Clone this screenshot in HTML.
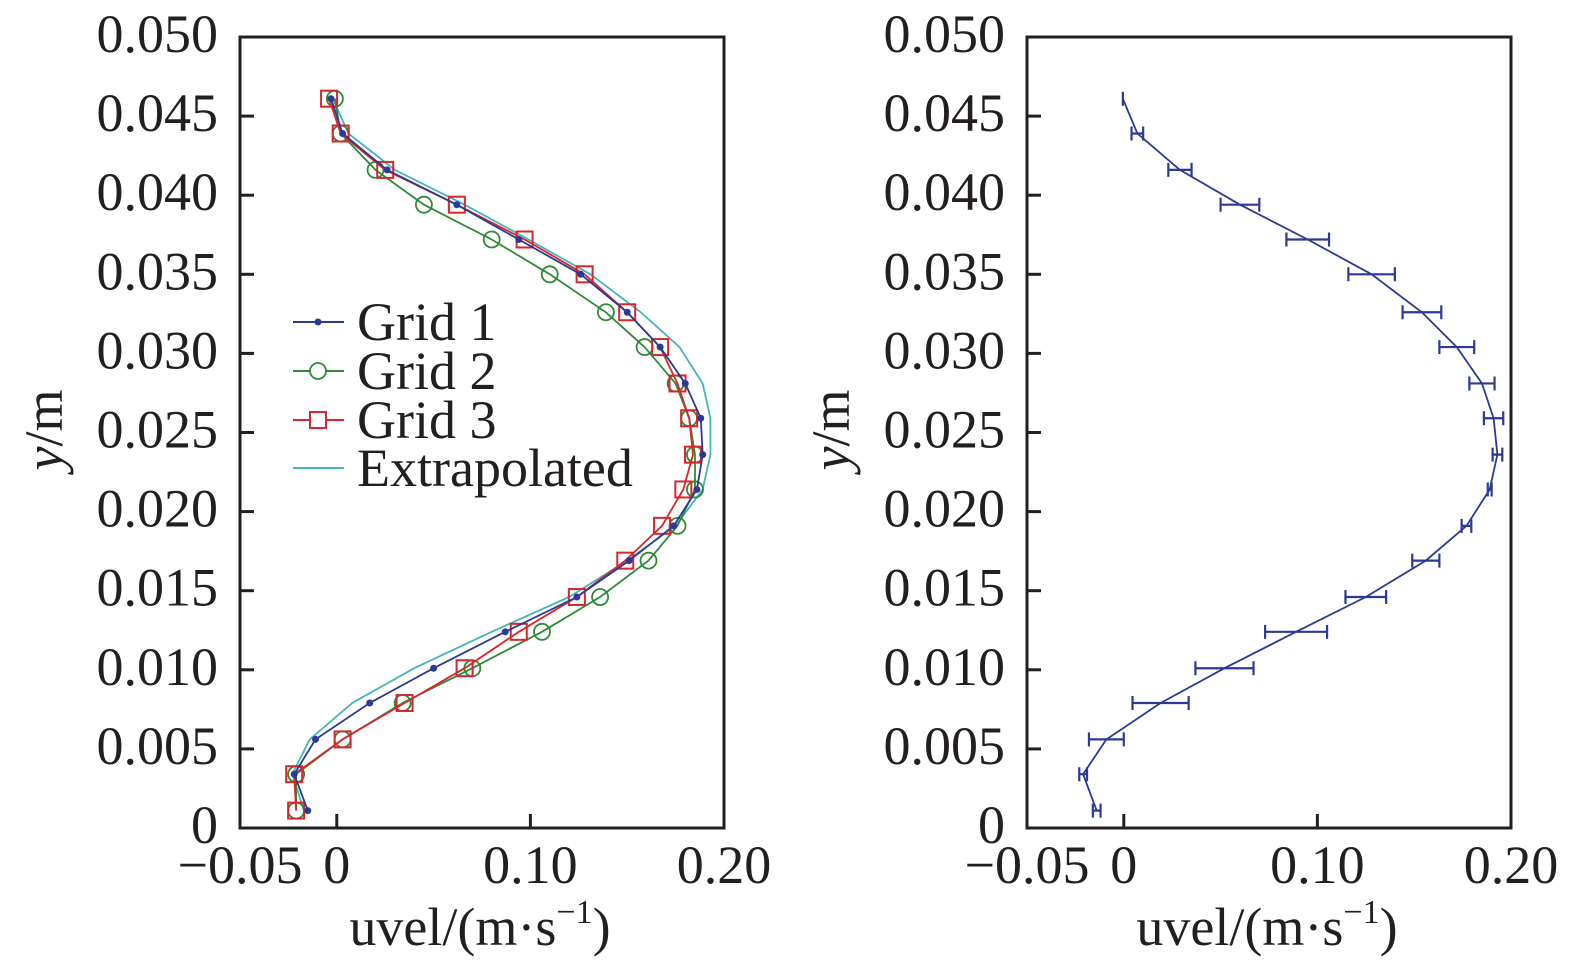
<!DOCTYPE html>
<html><head><meta charset="utf-8"><style>
html,body{margin:0;padding:0;background:#fff;}
svg{display:block;font-family:"Liberation Serif",serif;}
</style></head><body>
<svg id="chart" width="1575" height="970" viewBox="0 0 1575 970" xmlns="http://www.w3.org/2000/svg"></svg>
<script>
const yLevels=[0.0461,0.0439,0.0416,0.0394,0.0372,0.0350,0.0326,0.0304,0.0281,0.0259,0.0236,0.0214,0.0191,0.0169,0.0146,0.0124,0.0101,0.0079,0.0056,0.0034,0.0011];
const grid1=[-0.003,0.003,0.026,0.062,0.094,0.126,0.150,0.167,0.180,0.188,0.189,0.186,0.174,0.151,0.124,0.087,0.050,0.017,-0.011,-0.022,-0.015];
const grid2=[-0.001,0.002,0.020,0.045,0.080,0.110,0.139,0.159,0.175,0.182,0.185,0.185,0.176,0.161,0.136,0.106,0.070,0.034,0.003,-0.021,-0.021];
const grid3=[-0.004,0.002,0.025,0.062,0.097,0.128,0.150,0.167,0.176,0.182,0.184,0.179,0.168,0.149,0.124,0.094,0.066,0.035,0.003,-0.022,-0.021];
const extrap=[-0.002,0.006,0.030,0.066,0.099,0.131,0.157,0.177,0.189,0.193,0.193,0.189,0.175,0.150,0.120,0.080,0.040,0.008,-0.014,-0.023,-0.017];
const meanVel=[-0.0005,0.007,0.029,0.060,0.095,0.128,0.154,0.172,0.185,0.191,0.193,0.189,0.177,0.156,0.125,0.089,0.052,0.019,-0.009,-0.021,-0.014];
const errVel=[0,0.003,0.006,0.010,0.011,0.012,0.010,0.009,0.0065,0.005,0.0025,0.001,0.0025,0.007,0.0105,0.016,0.015,0.0145,0.009,0.002,0.002];
const xTicks=[-0.05,0,0.10,0.20];
const xTickLabels=["\u22120.05","0","0.10","0.20"];
const yTicks=[0,0.005,0.010,0.015,0.020,0.025,0.030,0.035,0.040,0.045,0.050];
const yTickLabels=["0","0.005","0.010","0.015","0.020","0.025","0.030","0.035","0.040","0.045","0.050"];
const legendLabels=["Grid 1","Grid 2","Grid 3","Extrapolated"];

const svg=document.getElementById('chart');
const NS="http://www.w3.org/2000/svg";
function mk(tag,attrs,parent){const e=document.createElementNS(NS,tag);for(const k in attrs)e.setAttribute(k,attrs[k]);(parent||svg).appendChild(e);return e;}

const FS=54;
const X0=240,X1=724,Y0=828,Y1=37;
function makeAxes(off){
  const xs=v=>off+X0+(v+0.05)/0.25*(X1-X0);
  const ys=v=>Y0-v/0.05*(Y0-Y1);
  return {xs,ys};
}
function drawFrame(off,name){
  const {xs,ys}=makeAxes(off);
  const g=mk('g',{});
  
  
  const r=mk('rect',{x:off+X0,y:Y1,width:X1-X0,height:Y0-Y1,fill:'none',stroke:'#231f20','stroke-width':3},g);
  
  
  yTicks.forEach((t,i)=>{
    const y=ys(t);
    const tk=mk('line',{x1:off+X0,x2:off+X0+14,y1:y,y2:y,stroke:'#231f20','stroke-width':3},g);
    
    
    const tx=mk('text',{x:off+218,y:y+15,'text-anchor':'end','font-size':FS,fill:'#231f20'},g);
    tx.textContent=yTickLabels[i];
    
    
  });
  xTicks.forEach((t,i)=>{
    const x=xs(t);
    const tk=mk('line',{x1:x,x2:x,y1:Y0,y2:Y0-14,stroke:'#231f20','stroke-width':3},g);
    
    
    const tx=mk('text',{x:x,y:883,'text-anchor':'middle','font-size':FS,fill:'#231f20'},g);
    tx.textContent=xTickLabels[i];
    
    
  });
  const xt=mk('text',{x:off+480,y:945,'text-anchor':'middle','font-size':FS,fill:'#231f20'},g);
  xt.innerHTML='uvel/(m\u00b7s<tspan dy="-22" font-size="34">\u22121</tspan><tspan dy="22">)</tspan>';
  
  
  const yt=mk('text',{x:0,y:0,'text-anchor':'middle','font-size':FS,fill:'#231f20',transform:`translate(${off+62},430) rotate(-90)`},g);
  yt.innerHTML='<tspan font-style="italic">y</tspan>/m';
  
  
  return {xs,ys};
}
function pathOf(arr,xs,ys){return arr.map((v,i)=>(i?'L':'M')+xs(v).toFixed(1)+' '+ys(yLevels[i]).toFixed(1)).join(' ');}

// Left panel
const L=drawFrame(0,'left');
const cols={b:'#2b3a92',g:'#2f8a36',r:'#d8262c',c:'#45b5b5'};
const ex=mk('path',{d:pathOf(extrap,L.xs,L.ys),fill:'none',stroke:cols.c,'stroke-width':1.8});


function series(arr,col,marker,name){
  const p=mk('path',{d:pathOf(arr,L.xs,L.ys),fill:'none',stroke:col,'stroke-width':1.8});
  
  
  arr.forEach((v,i)=>{
    const x=L.xs(v),y=L.ys(yLevels[i]);let m;
    if(marker==='dot')m=mk('circle',{cx:x,cy:y,r:3.5,fill:col});
    else if(marker==='circle')m=mk('circle',{cx:x,cy:y,r:8,fill:'none',stroke:col,'stroke-width':1.8});
    else m=mk('rect',{x:x-8,y:y-8,width:16,height:16,fill:'none',stroke:col,'stroke-width':2});
    
    
  });
}
series(grid2,cols.g,'circle','grid-2');
series(grid3,cols.r,'square','grid-3');
series(grid1,cols.b,'dot','grid-1');

// legend
const lg=mk('g',{});


const lcol=[cols.b,cols.g,cols.r,cols.c],lm=['dot','circle','square','none'],ly=[322,371,420,468];
legendLabels.forEach((t,i)=>{
  const y=ly[i];
  const ln=mk('line',{x1:293,x2:344,y1:y,y2:y,stroke:lcol[i],'stroke-width':2},lg);
  
  
  let m=null;
  if(lm[i]==='dot')m=mk('circle',{cx:318,cy:y,r:3.5,fill:lcol[i]},lg);
  if(lm[i]==='circle')m=mk('circle',{cx:318,cy:y,r:8,fill:'#fff',stroke:lcol[i],'stroke-width':1.8},lg);
  if(lm[i]==='square')m=mk('rect',{x:310,y:y-8,width:16,height:16,fill:'#fff',stroke:lcol[i],'stroke-width':2},lg);
  if(m){}
  const tx=mk('text',{x:357,y:y+18,'font-size':FS,fill:'#231f20'},lg);
  tx.textContent=t;
  
  
});

// Right panel
const R=drawFrame(787,'right');
const rl=mk('path',{d:pathOf(meanVel,R.xs,R.ys),fill:'none',stroke:'#2b3a92','stroke-width':1.8});


meanVel.forEach((v,i)=>{
  const y=R.ys(yLevels[i]),xa=R.xs(v-errVel[i]),xb=R.xs(v+errVel[i]);
  const eb=mk('path',{d:`M${xa} ${y}H${xb}M${xa} ${y-7}V${y+7}M${xb} ${y-7}V${y+7}`,fill:'none',stroke:'#2b3a92','stroke-width':2.2});
  
  
});
</script>
</body></html>
